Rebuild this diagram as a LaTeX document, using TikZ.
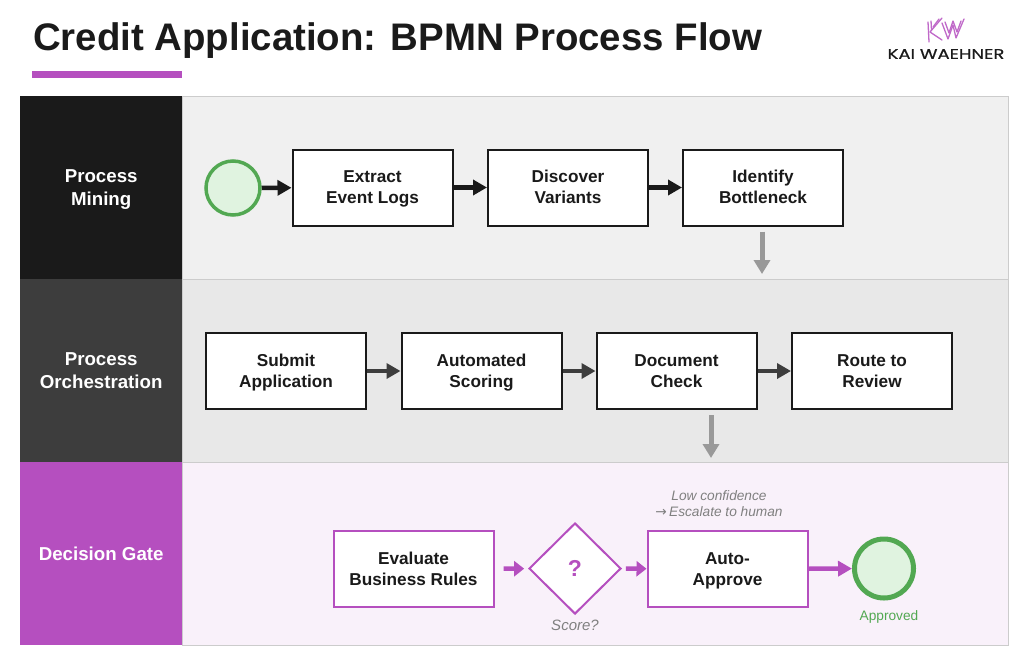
\documentclass[tikz,border=0pt]{standalone}
\usepackage{fontspec}
\setmainfont{Liberation Sans}
\newfontfamily\logofont[FakeBold=0.6]{Poppins}
\usetikzlibrary{arrows.meta,shapes.geometric}
\definecolor{purp}{HTML}{B54FBF}
\definecolor{dk}{HTML}{1A1A1A}
\definecolor{gn}{HTML}{52A852}
\definecolor{gnf}{HTML}{E0F3E0}
\definecolor{gr}{HTML}{999999}
\definecolor{notec}{HTML}{808080}
\newcommand{\twolines}[3][1.6pt]{\raisebox{-#1}[\height][\depth]{\parbox[c]{150pt}{\centering\strut #2\\\strut #3}}}
\tikzset{
 lane/.style={draw=black!20,line width=1pt,anchor=north west,minimum width=826,minimum height=183,inner sep=0},
 lab/.style={anchor=north west,minimum width=162,minimum height=183,inner sep=0,text=white,align=center,font=\fontsize{18.7}{23}\selectfont\bfseries},
 task/.style={draw=#1,fill=white,line width=2pt,minimum width=160,minimum height=76,inner sep=0,align=center,text=dk,font=\fontsize{17.2}{21}\selectfont\bfseries},
 flow/.style={draw=#1,line width=4.5pt,-{Triangle[length=14pt,width=15pt,fill=#1]}},
 vflow/.style={draw=gr,line width=5pt,-{Triangle[length=14pt,width=16pt,fill=gr]}},
 sflow/.style={draw=purp,line width=4.5pt,-{Triangle[length=10pt,width=15pt,fill=purp]}},
 evt/.style={circle,draw=gn,fill=gnf,inner sep=0},
 note/.style={text=notec,align=center,font=\fontsize{13.7}{16}\selectfont\itshape},
 logoline/.style={purp!85,line width=1.3pt,line cap=round,line join=round},
}
\begin{document}
\begin{tikzpicture}[x=1pt,y=-1pt]
\useasboundingbox (0,0) rectangle (1024,664);
\fill[white] (0,0) rectangle (1024,664);
% title
\node[anchor=west,inner sep=0,text=dk,font=\fontsize{38.4}{40}\selectfont\bfseries] (title) at (33,40.5) {Credit Application: BPMN Process Flow};
\fill[purp] (32,71) rectangle (182,78);
% logo
\draw[logoline] (928,22) -- (929,42) (931,21) -- (931.5,30);
\draw[logoline] (942,18) -- (930,32) -- (942,40);
\draw[logoline] (939,19) -- (933,27);
\draw[logoline] (942,23) -- (948,39) -- (953,25) -- (956,38) -- (964,19);
\draw[logoline] (945,22) -- (949,33) -- (953,21) -- (957,32) -- (961,21);
\node[inner sep=0,text=dk,font=\logofont\fontsize{14}{16}\selectfont] (logo) at (946,54) {\scalebox{1.29}[1]{KAI WAEHNER}};
% lanes
\node[lane,fill=black!6] (l1) at (182,96) {};
\node[lane,fill=black!9] (l2) at (182,279) {};
\node[lane,fill=purp!8!white] (l3) at (182,462) {};
\node[lab,fill=dk] (h1) at (20,96) {\twolines[2pt]{Process}{Mining}};
\node[lab,fill=black!76] (h2) at (20,279) {\twolines[2pt]{Process}{Orchestration}};
\node[lab,fill=purp] (h3) at (20,462) {Decision Gate};
% row 1
\node[evt,line width=3.5pt,minimum size=54] (s) at (233,188) {};
\node[task=dk] (a1) at (372.5,187.5) {\twolines{Extract}{Event Logs}};
\node[task=dk] (a2) at (568,187.5) {\twolines{Discover}{Variants}};
\node[task=dk] (a3) at (763,187.5) {\twolines{Identify}{Bottleneck}};
\draw[flow=dk] (s) -- (a1);
\draw[flow=dk] (a1) -- (a2);
\draw[flow=dk] (a2) -- (a3);
% row 2
\node[task=dk] (b1) at (286,371) {\twolines{Submit}{Application}};
\node[task=dk] (b2) at (481.5,371) {\twolines{Automated}{Scoring}};
\node[task=dk] (b3) at (676.5,371) {\twolines{Document}{Check}};
\node[task=dk] (b4) at (872,371) {\twolines{Route to}{Review}};
\draw[flow=black!76] (b1) -- (b2);
\draw[flow=black!76] (b2) -- (b3);
\draw[flow=black!76] (b3) -- (b4);
% cross-lane
\coordinate (d1) at (762,274);
\coordinate (d2) at (711,458);
\draw[vflow] (a3.south -| d1) ++(0,5) -- (d1);
\draw[vflow] (b3.south -| d2) ++(0,5) -- (d2);
% row 3
\node[task=purp] (c1) at (413.5,569) {\twolines{Evaluate}{Business Rules}};
\node[diamond,draw=purp,fill=white,line width=2pt,inner sep=0,minimum width=92,minimum height=91,text=purp,font=\fontsize{23}{24}\selectfont\bfseries] (q) at (575,568.5) {?};
\node[task=purp] (c2) at (727.5,569) {\twolines{Auto-}{Approve}};
\node[evt,line width=5pt,minimum size=59] (e) at (884,568.5) {};
\draw[sflow,shorten <=9pt,shorten >=4pt] (c1) -- (q);
\draw[sflow,shorten <=4pt] (q) -- (c2);
\draw[flow=purp] (c2) -- (e);
% notes
\node[note] (n1) at (719,504) {Low confidence\\{\fontspec{DejaVu Sans}\fontsize{13.7}{16}\selectfont→}\,Escalate to human};
\node[note,font=\fontsize{15}{18}\selectfont\itshape] (n2) at (575,625) {Score?};
\node[text=gn,font=\fontsize{13.7}{16}\selectfont] (n3) at (889,617) {Approved};
\end{tikzpicture}
\end{document}
